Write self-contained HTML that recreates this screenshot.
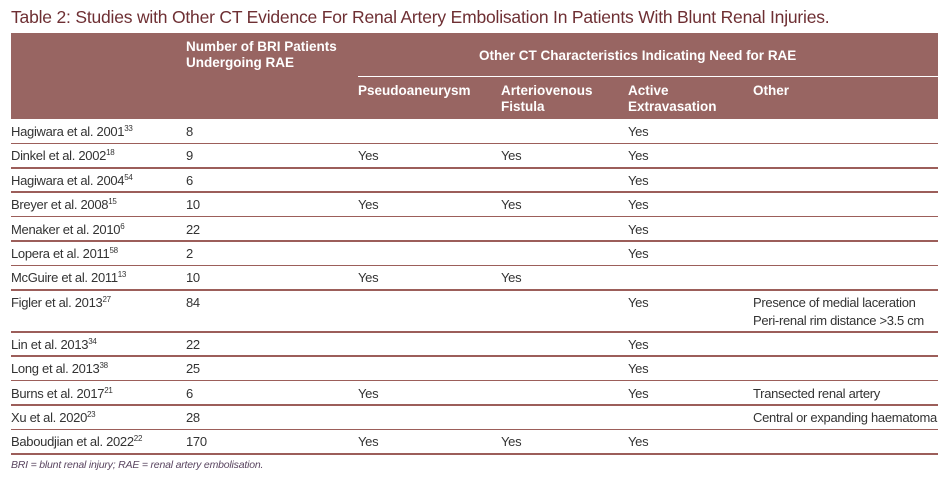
<!DOCTYPE html>
<html><head><meta charset="utf-8">
<style>
body{margin:0;width:947px;height:486px;background:#fff;font-family:"Liberation Sans",sans-serif;position:relative;overflow:hidden}
.abs{position:absolute;white-space:nowrap}
#title{left:11px;top:7px;font-size:17.5px;color:#6e2f33;letter-spacing:-0.2px}
#hdr{left:11px;top:33px;width:927px;height:86px;background:#986562}
.h{position:absolute;color:#fff;font-weight:bold;font-size:13.5px;line-height:16px;white-space:nowrap}
#subline{position:absolute;left:347px;top:43px;width:580px;height:1px;background:#fff}
.cell{position:absolute;font-size:13px;color:#333;letter-spacing:-0.3px;white-space:nowrap}
.line{position:absolute;left:11px;width:927px;height:1.5px;background:#9c5e5a}
sup{font-size:8px;vertical-align:5px;line-height:0}
#foot{left:11px;top:459px;font-size:10.5px;font-style:italic;color:#5a4560;letter-spacing:-0.2px}
</style></head><body>
<div class="abs" id="title">Table 2: Studies with Other CT Evidence For Renal Artery Embolisation In Patients With Blunt Renal Injuries.</div>
<div class="abs" id="hdr">
  <div class="h" style="left:175px;top:6px">Number of BRI Patients<br>Undergoing RAE</div>
  <div class="h" style="left:468px;top:15px">Other CT Characteristics Indicating Need for RAE</div>
  <div id="subline"></div>
  <div class="h" style="left:347px;top:50px">Pseudoaneurysm</div>
  <div class="h" style="left:490px;top:50px">Arteriovenous<br>Fistula</div>
  <div class="h" style="left:617px;top:50px">Active<br>Extravasation</div>
  <div class="h" style="left:742px;top:50px">Other</div>
</div>
<div id="rows"></div>
<div class="abs" id="foot">BRI = blunt renal injury; RAE = renal artery embolisation.</div>
<script>
const studies=["Hagiwara et al. 2001","Dinkel et al. 2002","Hagiwara et al. 2004","Breyer et al. 2008","Menaker et al. 2010","Lopera et al. 2011","McGuire et al. 2011","Figler et al. 2013","Lin et al. 2013","Long et al. 2013","Burns et al. 2017","Xu et al. 2020","Baboudjian et al. 2022"];
const refs=["33","18","54","15","6","58","13","27","34","38","21","23","22"];
const patients=[8,9,6,10,22,2,10,84,22,25,6,28,170];
const pseudo=[0,1,0,1,0,0,1,0,0,0,1,0,1];
const avf=[0,1,0,1,0,0,1,0,0,0,0,0,1];
const active=[1,1,1,1,1,1,0,1,1,1,1,0,1];
const other=["","","","","","","","Presence of medial laceration|Peri-renal rim distance >3.5 cm","","","Transected renal artery","Central or expanding haematoma",""];
const colX=[11,186,358,501,628,753];
const root=document.getElementById('rows');
let y=119;
function cell(x,top,html,name){
  const d=document.createElement('div');
  d.className='cell';
  d.style.left=x+'px';d.style.top=top+'px';
  d.innerHTML=html;
  
  
  root.appendChild(d);
}
studies.forEach((s,i)=>{
  const lines=other[i]?other[i].split('|'):[];
  const h=lines.length>1?42:24.4;
  const t=y+5;
  cell(colX[0],t,s+'<sup>'+refs[i]+'</sup>','study-name');
  cell(colX[1],t,String(patients[i]),'patient-count');
  if(pseudo[i])cell(colX[2],t,'Yes','pseudoaneurysm-yes');
  if(avf[i])cell(colX[3],t,'Yes','av-fistula-yes');
  if(active[i])cell(colX[4],t,'Yes','active-extravasation-yes');
  lines.forEach((l,k)=>cell(colX[5],t+k*18,l,'other-characteristic'));
  y+=h;
  const ln=document.createElement('div');
  ln.className='line';
  ln.style.top=(y-0.75)+'px';
  
  
  root.appendChild(ln);
});
</script>
</body></html>
